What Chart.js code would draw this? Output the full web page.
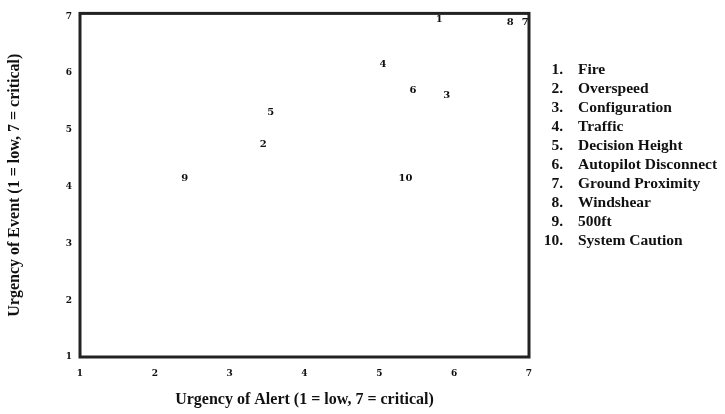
<!DOCTYPE html>
<html lang="en">
<head>
  <meta charset="UTF-8">
  <title>Urgency of Alert vs Urgency of Event</title>
  <style>
    body { margin: 0; background: #fff; }
    .wrap { position: relative; width: 725px; height: 414px; }
    #chart { position: absolute; left: 0; top: 0; }
    .legend { position: absolute; left: 529px; top: 59px; margin: 0; padding: 0; list-style: none;
      font-family: 'Liberation Serif', 'Times New Roman', serif; font-weight: bold; font-size: 15.5px; color: #111; }
    .legend li { height: 19px; line-height: 19px; white-space: nowrap; }
    .legend .n { display: inline-block; width: 34px; text-align: right; margin-right: 15px; }
  </style>
</head>
<body>
  <div class="wrap">
    <canvas id="chart" width="725" height="414"></canvas>
    <ul class="legend" id="legend"></ul>
  </div>
  <script src="https://cdn.jsdelivr.net/npm/chart.js"></script>
  <script>
    // alert types, numbered 1..10
    const eventNames = ['Fire', 'Overspeed', 'Configuration', 'Traffic', 'Decision Height',
      'Autopilot Disconnect', 'Ground Proximity', 'Windshear', '500ft', 'System Caution'];
    const alertUrgency = [5.8, 3.45, 5.9, 5.05, 3.55, 5.45, 6.95, 6.75, 2.4, 5.35];
    const eventUrgency = [6.95, 4.75, 5.6, 6.15, 5.3, 5.7, 6.9, 6.9, 4.15, 4.15];
    const axisTicks = [1, 2, 3, 4, 5, 6, 7];

    // legend list
    const ul = document.getElementById('legend');
    eventNames.forEach((name, i) => {
      const li = document.createElement('li');
      li.innerHTML = '<span class="n">' + (i + 1) + '.</span>' + name;
      ul.appendChild(li);
    });

    const points = alertUrgency.map((x, i) => ({ x: x, y: eventUrgency[i] }));

    // numbers drawn at each point instead of markers
    const numberLabels = {
      id: 'numberLabels',
      afterDraw(chart) {
        const ctx = chart.ctx;
        const meta = chart.getDatasetMeta(0);
        ctx.save();
        ctx.font = 'bold 10px "DejaVu Serif", serif';
        ctx.fillStyle = '#111';
        ctx.textAlign = 'center';
        ctx.textBaseline = 'middle';
        meta.data.forEach((el, i) => {
          ctx.fillText(String(i + 1), el.x, el.y);
        });
        ctx.restore();
      }
    };

    // thick box round the plot
    const frame = {
      id: 'frame',
      beforeDatasetsDraw(chart) {
        const a = chart.chartArea;
        const ctx = chart.ctx;
        ctx.save();
        ctx.strokeStyle = '#222';
        ctx.lineWidth = 3;
        ctx.strokeRect(a.left, a.top, a.right - a.left, a.bottom - a.top);
        ctx.restore();
      }
    };

    const tickFont = { family: '"DejaVu Serif", serif', size: 9, weight: 'bold' };
    const titleFont = { family: '"Liberation Serif", "Times New Roman", serif', size: 16, weight: 'bold' };

    new Chart(document.getElementById('chart'), {
      type: 'scatter',
      data: {
        datasets: [{
          data: points,
          pointRadius: 0,
          pointHoverRadius: 0,
          showLine: false
        }]
      },
      options: {
        responsive: false,
        animation: false,
        events: [],
        layout: { padding: { top: 11, right: 196, bottom: 0, left: 0 } },
        plugins: { legend: { display: false }, tooltip: { enabled: false } },
        scales: {
          x: {
            type: 'linear', min: 1, max: 7,
            afterBuildTicks: s => { s.ticks = axisTicks.map(v => ({ value: v })); },
            grid: { display: false, drawTicks: false },
            border: { display: false },
            ticks: { color: '#111', font: tickFont, padding: 11 },
            title: { display: true, text: 'Urgency of Alert (1 = low, 7 = critical)', color: '#111',
              font: titleFont, padding: { top: 0, bottom: 5 } },
            afterFit: s => { s.height = 57; }
          },
          y: {
            type: 'linear', min: 1, max: 7.05,
            afterBuildTicks: s => { s.ticks = axisTicks.map(v => ({ value: v })); },
            grid: { display: false, drawTicks: false },
            border: { display: false },
            ticks: { color: '#111', font: tickFont, padding: 8 },
            title: { display: true, text: 'Urgency of Event (1 = low, 7 = critical)', color: '#111',
              font: titleFont, padding: { top: 5, bottom: 0 } },
            afterFit: s => { s.width = 80; }
          }
        }
      },
      plugins: [numberLabels, frame]
    });
  </script>
</body>
</html>
